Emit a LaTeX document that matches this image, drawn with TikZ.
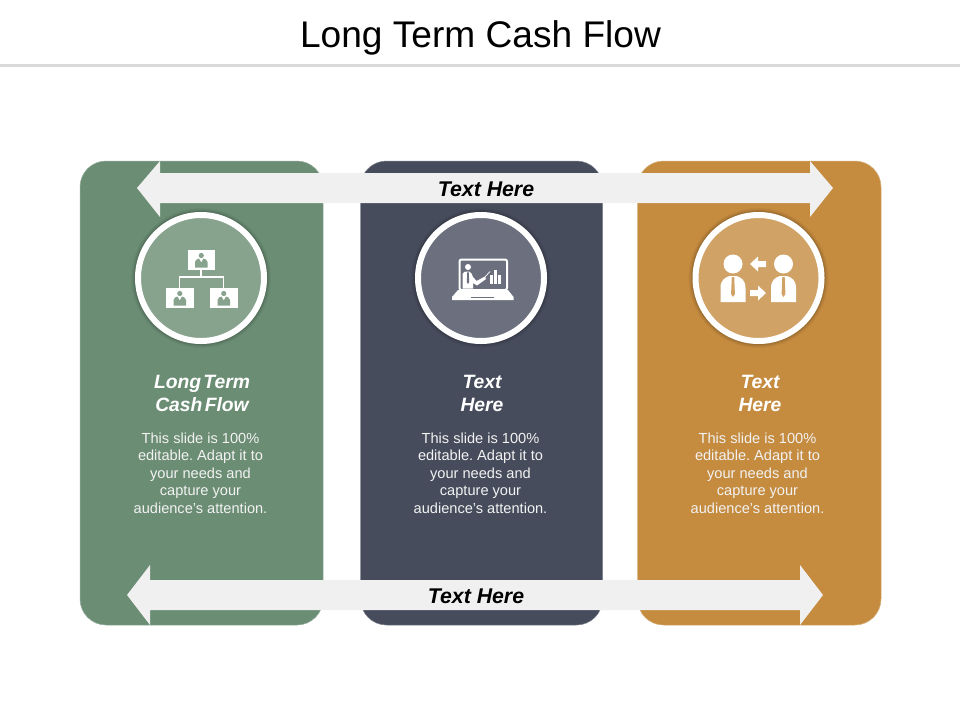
\documentclass[tikz,border=0pt]{standalone}
\usepackage{fontspec}
\setmainfont{Liberation Sans}
\frenchspacing
\definecolor{cgreen}{HTML}{6B8D74}
\definecolor{cnavy}{HTML}{474C5C}
\definecolor{cgold}{HTML}{C58B3F}
\definecolor{igreen}{HTML}{87A38E}
\definecolor{inavy}{HTML}{6C6F7D}
\definecolor{igold}{HTML}{D0A266}
\definecolor{cband}{HTML}{F0F0F0}
\definecolor{crule}{HTML}{D9D9D9}
\tikzset{
  panel/.style={rounded corners=26pt,line width=0.5pt,draw=#1!70!white,fill=#1},
  band/.style={fill=cband,draw=none},
  bandtext/.style={inner sep=0pt,font=\fontsize{21.3}{24}\selectfont\bfseries\itshape,text=black},
  headtext/.style={inner sep=0pt,align=center,text=white,font=\fontsize{19.3}{23}\selectfont\bfseries\itshape},
  bodytext/.style={inner sep=0pt,align=center,text=white!95!black,font=\fontsize{14.6}{17.5}\selectfont},
  ring/.style={circle,minimum size=126pt,inner sep=0pt,line width=6pt,draw=white,fill=#1},
}
\newcommand{\ringshadow}[2]{%
  \foreach \rr/\oo in {70/0.03,69/0.04,68/0.06,67/0.08}{\fill[black,opacity=\oo] (#1,#2) circle (\rr pt);}%
}
\newcommand{\orgbox}[3]{% left, top, body colour
  \fill[white] (#1,#2) rectangle ++(27.5,20);
  \fill[#3] (#1+13.75,#2+5.5) circle (2.6pt);
  \fill[#3] (#1+7.5,#2+17.5) -- (#1+7.5,#2+12) .. controls (#1+8,#2+9.5) and (#1+10,#2+9) .. (#1+11.5,#2+8.5)
     -- (#1+13.75,#2+12.5) -- (#1+16,#2+8.5) .. controls (#1+17.5,#2+9) and (#1+19.5,#2+9.5) .. (#1+20,#2+12) -- (#1+20,#2+17.5) -- cycle;
}
\newcommand{\bizman}[3]{% centre x, head y, ring colour
  \fill[white] (#1,#2) circle (9.5pt);
  \fill[white] (#1-12.5,#2+38) -- (#1-12.5,#2+24) .. controls (#1-12.5,#2+16) and (#1-8,#2+13.5) .. (#1-3.5,#2+12)
     -- (#1+3.5,#2+12) .. controls (#1+8,#2+13.5) and (#1+12.5,#2+16) .. (#1+12.5,#2+24) -- (#1+12.5,#2+38) -- cycle;
  \fill[#3] (#1-1.2,#2+13) -- (#1+1.2,#2+13) -- (#1+1.9,#2+30) -- (#1,#2+33) -- (#1-1.9,#2+30) -- cycle;
}
\begin{document}
\begin{tikzpicture}[x=1pt,y=-1pt]
\useasboundingbox (0,0) rectangle (960,720);
\fill[white] (0,0) rectangle (960,720);
\node[inner sep=0pt,font=\fontsize{37.1}{40}\selectfont] (title) at (480.5,38) {Long Term Cash Flow};
\fill[crule] (0,63.5) rectangle (960,66.5);

% panels
\draw[panel=cgreen] (80,161) rectangle (323,625);
\draw[panel=cnavy] (360.5,161) rectangle (602.5,625);
\draw[panel=cgold] (637.5,161) rectangle (881,625);

% circles
\ringshadow{201}{278}
\ringshadow{481}{278}
\ringshadow{758.5}{278}
\node[ring=igreen] (c1) at (201,278) {};
\node[ring=inavy] (c2) at (481,278) {};
\node[ring=igold] (c3) at (758.5,278) {};

% bands
\fill[band] (137,188) -- (160,161) -- (160,173) -- (810,173) -- (810,161) -- (833,188) -- (810,217) -- (810,203) -- (160,203) -- (160,217) -- cycle;
\fill[band] (127,595) -- (150,565) -- (150,580) -- (800,580) -- (800,565) -- (823,595) -- (800,625) -- (800,610) -- (150,610) -- (150,625) -- cycle;
\node[bandtext] (topband) at (486,189.5) {Text Here};
\node[bandtext] (botband) at (476,596.5) {Text Here};

% icon 1: organisation chart
\draw[white,line width=1.3pt] (201,270) -- (201,277) (179.5,288) -- (179.5,277) -- (223.5,277) -- (223.5,288);
\orgbox{187.5}{250}{igreen}
\orgbox{166}{288}{igreen}
\orgbox{210}{288}{igreen}

% icon 2: laptop presentation
\draw[white,line width=2pt,rounded corners=2pt] (459.5,259.5) rectangle (507,290);
\fill[white] (458,290) -- (508,290) -- (513.5,297) -- (513.5,300) -- (452,300) -- (452,297) -- cycle;
\fill[inavy] (471,296.5) rectangle (494,298);
\fill[white] (468,267) circle (3pt);
\fill[white] (462.5,288.5) -- (462.5,274) .. controls (463,272) and (465,271.5) .. (467,271.5) -- (469,271.5)
   .. controls (471,272) and (472,274) .. (473,277) -- (476.5,281) -- (485,276.5) -- (486,279) -- (477,285.5) -- (473,283) -- (473,288.5) -- cycle;
\draw[white,line width=0.7pt] (485,277) -- (490,271.5);
\fill[inavy] (467.3,272) -- (468.7,272) -- (469.2,282) -- (468,284) -- (466.8,282) -- cycle;
\fill[white] (489.5,275) rectangle (492.7,283.5);
\fill[white] (494,270) rectangle (497,283.5);
\fill[white] (498.3,275) rectangle (501,283.5);

% icon 3: two men exchanging
\bizman{733}{264}{igold}
\bizman{783.5}{264}{igold}
\fill[white] (750,264) -- (758,256.5) -- (758,261) -- (766,261) -- (766,267) -- (758,267) -- (758,271.5) -- cycle;
\fill[white] (766,293) -- (758,285.5) -- (758,290) -- (750,290) -- (750,296) -- (758,296) -- (758,300.5) -- cycle;

% texts
\node[headtext] (h1) at (202,393) {Long\hskip0.12em Term\\Cash\hskip0.12em Flow};
\node[headtext] (h2) at (482,393) {Text\\Here};
\node[headtext] (h3) at (760,393) {Text\\Here};
\node[bodytext] (b1) at (200.5,473) {This slide is 100\%\\editable. Adapt it to\\your needs and\\capture your\\audience's attention.};
\node[bodytext] (b2) at (480.5,473) {This slide is 100\%\\editable. Adapt it to\\your needs and\\capture your\\audience's attention.};
\node[bodytext] (b3) at (757.5,473) {This slide is 100\%\\editable. Adapt it to\\your needs and\\capture your\\audience's attention.};
\end{tikzpicture}
\end{document}
